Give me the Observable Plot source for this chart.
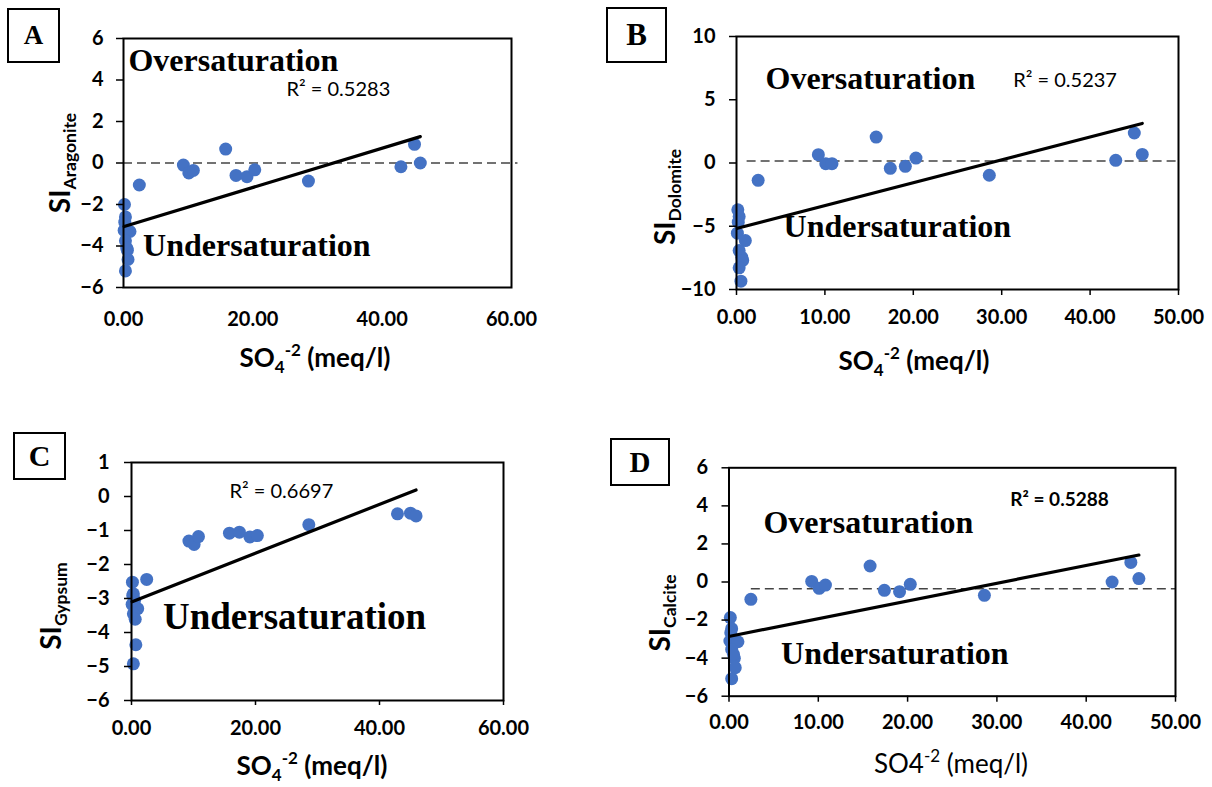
<!DOCTYPE html>
<html><head><meta charset="utf-8">
<script src="https://cdn.jsdelivr.net/npm/d3@7"></script>
<script src="https://cdn.jsdelivr.net/npm/@observablehq/plot@0.6"></script>
<style>
html,body{margin:0;padding:0;background:#fff;overflow:hidden;}
#page{position:relative;width:1212px;height:787px;font-family:Lato,sans-serif;color:#000;}
#page svg{position:absolute;left:0;top:0;background:transparent;}
.tag{position:absolute;box-sizing:border-box;border:2px solid #000;font-family:"Liberation Serif",serif;font-weight:bold;display:flex;align-items:center;justify-content:center;background:#fff;}
</style></head><body><div id="page"></div>
<script>
// ---- data (SO4 in meq/l, shared by all four panels) ----
const so4 = [2.45, 9.26, 10.1, 10.8, 15.8, 17.4, 19.1, 20.3, 28.6, 42.9, 45.0, 45.9,
             0.15, 0.3, 0.2, 0.1, 1.0, 0.3, 0.6, 0.7, 0.3, 0.5];
const siAragonite = [-1.06, -0.1, -0.48, -0.36, 0.67, -0.6, -0.66, -0.33, -0.87, -0.18, 0.9, 0.0,
                     -2.0, -2.6, -2.85, -3.25, -3.3, -3.75, -4.2, -4.65, -5.2, -4.1];
const siDolomite = [-1.37, 0.66, -0.05, -0.05, 2.05, -0.42, -0.26, 0.39, -0.97, 0.21, 2.37, 0.68,
                    -3.7, -4.23, -4.68, -5.55, -6.13, -6.92, -7.45, -7.7, -8.29, -9.34];
const siGypsum = [-2.44, -1.31, -1.41, -1.18, -1.08, -1.05, -1.19, -1.15, -0.83, -0.51, -0.49, -0.57,
                  -2.52, -2.86, -2.91, -3.17, -3.3, -3.45, -3.61, -4.36, -4.92, -3.05];
const siCalcite = [-0.91, 0.03, -0.33, -0.16, 0.84, -0.44, -0.51, -0.12, -0.70, 0.0, 1.03, 0.18,
                   -1.87, -2.45, -2.66, -3.1, -3.14, -3.54, -4.01, -4.5, -5.08, -3.8];
// linear trend lines (intercept, slope) and R² labels
const trendIntercept = [-3.07, -5.18, -3.1, -2.86];
const trendSlope = [0.0946, 0.181, 0.0717, 0.0932];
const r2Labels = ["R\u00B2 = 0.5283", "R\u00B2 = 0.5237", "R\u00B2 = 0.6697", "R\u00B2 = 0.5288"];
// saturation reference (dashed) levels
const refLevel = [0, 0.15, null, -0.35];
const refFrom = [0, 1.2, null, 2.5];
const refTo = [61, 50, null, 50];
// tick values
const xTicks60 = [0, 20, 40, 60];
const xTicks50 = [0, 10, 20, 30, 40, 50];
const yTicksA = [-6, -4, -2, 0, 2, 4, 6];
const yTicksB = [-10, -5, 0, 5, 10];
const yTicksC = [-6, -5, -4, -3, -2, -1, 0, 1];
const yTicksD = [-6, -4, -2, 0, 2, 4, 6];
const panelTags = ["A", "B", "C", "D"];
const mineralNames = ["Aragonite", "Dolomite", "Gypsum", "Calcite"];

// ---- layout ----
const W = 1212, H = 787;
const panels = [
  {si: siAragonite, frame:{l:123,r:511,t:38,b:287}, xd:[0,60], xt:xTicks60, yd:[-6,6], yt:yTicksA,
   xTick:0, xPad:24, yPad:13,
   over:[0.77,4.93], under:[3.03,-3.99], r2:[25.2,3.55], r2bold:false, underSize:32,
   tag:{x:7,y:8,w:53,h:55,fs:27}, ytitle:{x:70,y:163}, xtitle:{x:315,y:367,bold:true,sub:true}},
  {si: siDolomite, frame:{l:736,r:1178,t:36,b:289}, xd:[0,50], xt:xTicks50, yd:[-10,10], yt:yTicksB,
   xTick:6, xPad:20, yPad:14,
   over:[3.28,6.67], under:[5.32,-5.0], r2:[31.3,6.53], r2bold:false, underSize:32,
   tag:{x:606,y:7,w:61,h:56,fs:31}, ytitle:{x:675,y:197}, xtitle:{x:914,y:370,bold:true,sub:true}},
  {si: siGypsum, frame:{l:131,r:503,t:462,b:700}, xd:[0,60], xt:xTicks60, yd:[-6,1], yt:yTicksC,
   xTick:5, xPad:20, yPad:15,
   over:null, under:[5.08,-3.54], r2:[15.8,0.15], r2bold:false, underSize:37,
   tag:{x:13,y:432,w:53,h:48,fs:30}, ytitle:{x:61,y:606}, xtitle:{x:312,y:775,bold:true,sub:true}},
  {si: siCalcite, frame:{l:728.5,r:1175,t:467.3,b:695.7}, xd:[0,50], xt:xTicks50, yd:[-6,6], yt:yTicksD,
   xTick:6, xPad:19, yPad:14,
   over:[3.86,3.1], under:[5.83,-3.76], r2:[31.5,4.29], r2bold:true, underSize:32,
   tag:{x:610,y:438,w:60,h:48,fs:29}, ytitle:{x:670,y:613}, xtitle:{x:951,y:773,bold:false,sub:false}}
];

const page = document.getElementById("page");
const xMin = d3.min(so4), xMax = d3.max(so4);

panels.forEach((p, i) => {
  const pts = so4.map((x, j) => ({x, y: p.si[j]}));
  const trend = [xMin, xMax].map(x => ({x, y: trendIntercept[i] + trendSlope[i] * x}));
  const marks = [];
  if (refLevel[i] !== null) {
    marks.push(Plot.ruleY([{y: refLevel[i], x1: refFrom[i], x2: refTo[i]}],
      {y: "y", x1: "x1", x2: "x2", stroke: "#444", strokeWidth: 1.5, strokeDasharray: "9,5", clip: false}));
  }
  marks.push(Plot.dot(pts, {x: "x", y: "y", r: 6.5, fill: "#4472C4", stroke: "none"}));
  marks.push(Plot.line(trend, {x: "x", y: "y", stroke: "#000", strokeWidth: 3.2}));
  marks.push(Plot.frame({stroke: "#000", strokeWidth: 2}));
  marks.push(Plot.axisX(p.xt, {tickSize: p.xTick, tickPadding: p.xPad - p.xTick, tickFormat: d3.format(".2f"),
     fontSize: 20, fontWeight: "bold", label: null, strokeWidth: 1.5}));
  marks.push(Plot.axisY(p.yt, {tickSize: 7, tickPadding: p.yPad, tickFormat: d3.format("d"),
     fontSize: 20, fontWeight: "bold", label: null, strokeWidth: 1.5}));
  const serif = {textAnchor: "start", fontFamily: "Liberation Serif, Times New Roman, serif", fontWeight: "bold", fill: "#000"};
  if (p.over) marks.push(Plot.text([{x: p.over[0], y: p.over[1], t: "Oversaturation"}], {x: "x", y: "y", text: "t", fontSize: 32, ...serif}));
  marks.push(Plot.text([{x: p.under[0], y: p.under[1], t: "Undersaturation"}], {x: "x", y: "y", text: "t", fontSize: p.underSize, ...serif}));
  marks.push(Plot.text([{x: p.r2[0], y: p.r2[1], t: r2Labels[i]}], {x: "x", y: "y", text: "t", textAnchor: "start",
     fontSize: p.r2bold ? 19 : 20, fontWeight: p.r2bold ? "bold" : "normal", fontFamily: "Lato, sans-serif", fill: "#000"}));

  const svg = Plot.plot({
    width: W, height: H,
    marginLeft: p.frame.l, marginRight: W - p.frame.r, marginTop: p.frame.t, marginBottom: H - p.frame.b,
    x: {domain: p.xd}, y: {domain: p.yd},
    style: {fontFamily: "Lato, sans-serif", background: "transparent", color: "#000", overflow: "visible"},
    marks
  });
  page.appendChild(svg);
  const s = d3.select(svg);
  // y title with subscript
  const yt = s.append("text")
    .attr("transform", `translate(${p.ytitle.x},${p.ytitle.y}) rotate(-90)`)
    .attr("text-anchor", "middle").attr("font-family", "Lato, sans-serif").attr("font-weight", "bold").attr("fill", "#000");
  yt.append("tspan").attr("font-size", 28).text("SI");
  yt.append("tspan").attr("font-size", 17.5).attr("dy", 6).text(mineralNames[i]);
  // x title
  const xt = s.append("text").attr("x", p.xtitle.x).attr("y", p.xtitle.y)
    .attr("text-anchor", "middle").attr("font-family", "Lato, sans-serif")
    .attr("font-weight", p.xtitle.bold ? "bold" : "normal").attr("fill", "#000").attr("font-size", 26);
  if (p.xtitle.sub) {
    xt.append("tspan").text("SO");
    xt.append("tspan").attr("font-size", 17).attr("dy", 6).text("4");
    xt.append("tspan").attr("font-size", 17).attr("dy", -17).text("-2");
    xt.append("tspan").attr("dy", 11).text(" (meq/l)");
  } else {
    xt.append("tspan").text("SO4");
    xt.append("tspan").attr("font-size", 17).attr("dy", -11).text("-2");
    xt.append("tspan").attr("dy", 11).text(" (meq/l)");
  }
  // panel tag
  const tag = document.createElement("div");
  tag.className = "tag";
  Object.assign(tag.style, {left: p.tag.x + "px", top: p.tag.y + "px", width: p.tag.w + "px", height: p.tag.h + "px", fontSize: p.tag.fs + "px"});
  tag.textContent = panelTags[i];
  page.appendChild(tag);
});
</script></body></html>
